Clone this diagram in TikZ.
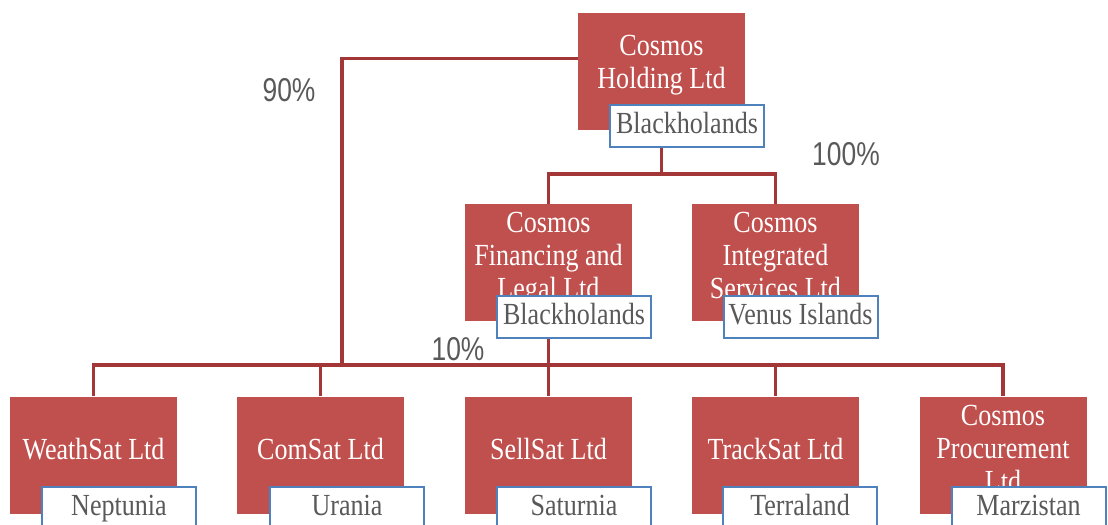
\documentclass[tikz,border=0pt]{standalone}
\usepackage{fontspec}
\setmainfont{Liberation Serif}[FakeStretch=0.85]
\newfontfamily\pctfont{Liberation Sans}[FakeStretch=0.8]
\usetikzlibrary{backgrounds,calc}
\definecolor{boxred}{HTML}{C0504D}
\definecolor{linkred}{HTML}{A33636}
\definecolor{locblue}{HTML}{4F81BD}
\definecolor{txtgray}{HTML}{595959}
\tikzset{
  corp/.style={draw=none, fill=boxred, minimum width=125.25pt, minimum height=87.75pt, inner sep=0pt},
  corptext/.style={text=white, align=center, font=\fontsize{23}{24.75}\selectfont, inner sep=0pt},
  loc/.style={draw=locblue, line width=1.5pt, fill=white, minimum width=115.5pt, minimum height=31.5pt, inner sep=0pt,
    text height=15.3pt, text depth=3.6pt, text=txtgray, font=\fontsize{23}{24.75}\selectfont},
  link/.style={draw=linkred, line width=2.5pt},
  pct/.style={text=txtgray, font=\pctfont\fontsize{24.75}{26}\selectfont, inner sep=0pt}
}
\begin{document}
\begin{tikzpicture}[x=0.75pt,y=-0.75pt]
\useasboundingbox (0,0) rectangle (1108,525);
\clip (0,0) rectangle (1108,525);

% company boxes
\node[corp] (hold) at (661.5,71.5) {};
\node[corp] (fin) at (548.5,262.5) {};
\node[corp] (int) at (775.5,262.5) {};
\node[corp] (weath) at (93.5,455) {};
\node[corp] (comsat) at (320.5,455) {};
\node[corp] (sell) at (548.5,455) {};
\node[corp] (track) at (775.5,455) {};
\node[corp] (proc) at (1003,455) {};

% company names
\node[corptext] (holdT) at (661.5,65) {Cosmos\\Holding Ltd};
\node[corptext] (finT) at (548.5,259) {Cosmos\\Financing and\\Legal Ltd};
\node[corptext] (intT) at (775.5,255) {Cosmos\\Integrated\\Services Ltd};
\node[corptext] (weathT) at (93.5,449) {WeathSat Ltd};
\node[corptext] (comsatT) at (320.5,449) {ComSat Ltd};
\node[corptext] (sellT) at (548.5,449) {SellSat Ltd};
\node[corptext] (trackT) at (775.5,449) {TrackSat Ltd};
\node[corptext] (procT) at (1003,448) {Cosmos\\Procurement\\Ltd};

% jurisdictions
\node[loc] (holdL) at (687,126) {Blackholands};
\node[loc] (finL) at (574,317) {Blackholands};
\node[loc] (intL) at (800.5,317) {Venus Islands};
\node[loc] (weathL) at (119,508) {Neptunia};
\node[loc] (comsatL) at (347,508) {Urania};
\node[loc] (sellL) at (574,508) {Saturnia};
\node[loc] (trackL) at (800,508) {Terraland};
\node[loc] (procL) at (1028.5,508) {Marzistan};

% ownership percentages
\node[pct] (p90) at (289,90) {90\%};
\node[pct] (p100) at (846,154) {100\%};
\node[pct] (p10) at (458,349) {10\%};

% ownership links
\coordinate (midbar) at (661.5,174);
\coordinate (j90) at (342,365);
\coordinate (bus) at (548.5,365);
\begin{scope}[on background layer]
  \draw[link] ([yshift=10pt]hold.west) -| (j90);
  \draw[link] (hold.south) -- (midbar) -| (fin.north);
  \draw[link] (midbar) -| (int.north);
  \draw[link] (fin.south) -- (sell.north);
  \draw[link] (weath.north) |- (bus) -| (proc.north);
  \draw[link] (comsat.north) -- (comsat.north |- bus);
  \draw[link] (track.north) -- (track.north |- bus);
\end{scope}
\end{tikzpicture}
\end{document}
